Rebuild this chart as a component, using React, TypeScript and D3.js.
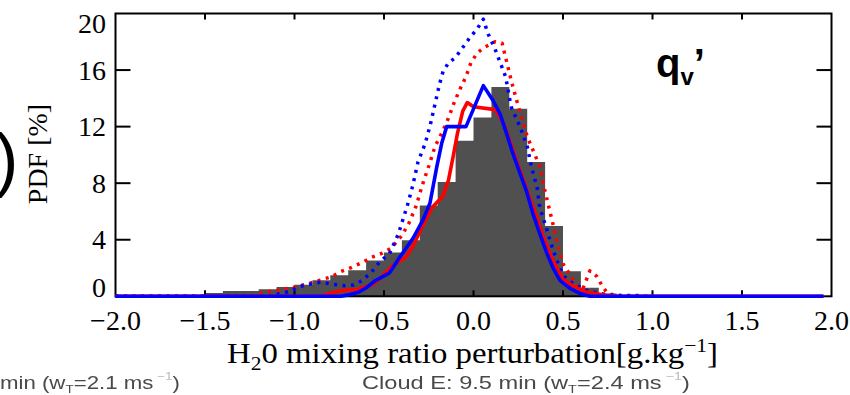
import React from "react";
import * as d3 from "d3";

const W = 850;
const H = 395;

// axis ticks
const xTickValues = [-2.0, -1.5, -1.0, -0.5, 0.0, 0.5, 1.0, 1.5, 2.0];
const yTickValues = [0, 4, 8, 12, 16, 20];

// histogram of the reference field (bin left edges, width 0.1 g/kg, PDF in %)
const binLeft = [
  -1.5, -1.4, -1.3, -1.2, -1.1, -1.0, -0.9, -0.8, -0.7, -0.6, -0.5, -0.4,
  -0.3, -0.2, -0.1, 0.0, 0.1, 0.2, 0.3, 0.4, 0.5, 0.6, 0.7,
];
const binWidth = 0.1;
const binPdf = [
  0.23, 0.37, 0.37, 0.5, 0.66, 0.82, 1.13, 1.48, 1.84, 2.54, 3.1, 3.96, 6.43,
  8.08, 11.0, 12.65, 14.8, 13.26, 9.5, 4.98, 1.77, 0.6, 0.2,
];

// solid red curve
const redSolid: [number, number][] = [
  [-2.0, 0], [-0.85, 0], [-0.8, 0.2], [-0.76, 0.35], [-0.7, 0.45], [-0.645, 0.5],
  [-0.56, 0.85], [-0.52, 1.3], [-0.45, 2.2], [-0.38, 2.75], [-0.34, 3.5],
  [-0.28, 5.1], [-0.23, 6.3], [-0.17, 7.1], [-0.14, 8.2], [-0.115, 9.8],
  [-0.09, 11.5], [-0.06, 13.1], [-0.035, 13.7], [0.0, 13.4], [0.12, 13.2],
  [0.165, 12.3], [0.2, 11.1], [0.24, 9.6], [0.28, 8.2], [0.31, 7.1], [0.35, 5.7],
  [0.39, 4.2], [0.43, 2.9], [0.47, 1.9], [0.5, 1.2], [0.56, 0.7], [0.63, 0.3],
  [0.74, 0.07], [0.8, 0], [1.955, 0],
];

// solid blue curve
const blueSolid: [number, number][] = [
  [-2.0, 0], [-0.74, 0], [-0.7, 0.1], [-0.64, 0.3], [-0.6, 0.6], [-0.55, 1.1],
  [-0.52, 1.3], [-0.47, 1.65], [-0.41, 2.8], [-0.338, 4.1], [-0.282, 5.4],
  [-0.243, 6.6], [-0.206, 9.1], [-0.178, 10.8], [-0.15, 12.0], [-0.042, 12.0],
  [0.055, 14.9], [0.109, 13.85], [0.148, 12.9], [0.185, 11.5], [0.22, 10.1],
  [0.26, 8.7], [0.297, 7.4], [0.332, 5.85], [0.37, 4.45], [0.41, 3.04],
  [0.446, 1.97], [0.483, 1.13], [0.539, 0.56], [0.595, 0.2], [0.65, 0],
  [1.955, 0],
];

// dotted red curve
const redDotted: [number, number][] = [
  [-2.0, 0], [-1.25, 0], [-1.2, 0.2], [-1.14, 0.35], [-1.08, 0.45], [-0.98, 0.7],
  [-0.92, 0.9], [-0.86, 1.13], [-0.79, 1.4], [-0.74, 1.75], [-0.68, 2.05],
  [-0.62, 2.4], [-0.57, 2.75], [-0.51, 3.05], [-0.46, 3.4], [-0.4, 4.3],
  [-0.36, 5.2], [-0.32, 6.4], [-0.285, 7.9], [-0.25, 9.2], [-0.215, 10.6],
  [-0.175, 11.6], [-0.14, 12.6], [-0.105, 13.8], [-0.07, 14.8], [-0.04, 15.6],
  [-0.015, 16.5], [0.02, 17.2], [0.06, 17.6], [0.12, 18.0], [0.16, 17.9],
  [0.185, 16.6], [0.21, 15.3], [0.24, 13.9], [0.265, 12.8], [0.3, 11.3],
  [0.34, 10.1], [0.37, 9.2], [0.4, 7.4], [0.425, 6.1], [0.45, 4.8], [0.47, 3.6],
  [0.5, 2.3], [0.54, 1.5], [0.58, 0.75], [0.61, 0.5], [0.65, 1.8], [0.69, 1.4],
  [0.72, 0.7], [0.75, 0.2], [0.8, 0.05], [0.9, 0],
];

// dotted blue curve
const blueDotted: [number, number][] = [
  [-2.0, 0], [-1.14, 0], [-1.08, 0.2], [-1.025, 0.35], [-0.97, 0.7], [-0.9, 0.9],
  [-0.85, 1.0], [-0.79, 0.85], [-0.72, 0.75], [-0.67, 0.8], [-0.62, 1.13],
  [-0.57, 1.7], [-0.52, 2.5], [-0.47, 3.0], [-0.42, 4.4], [-0.37, 6.4],
  [-0.34, 7.8], [-0.31, 9.5], [-0.27, 10.8], [-0.24, 12.2], [-0.215, 13.6],
  [-0.19, 15.0], [-0.17, 15.9], [-0.14, 16.5], [-0.1, 16.9], [-0.06, 17.6],
  [-0.02, 18.3], [0.02, 18.9], [0.055, 19.6], [0.08, 18.6], [0.12, 17.5],
  [0.15, 16.5], [0.18, 15.5], [0.21, 13.4], [0.26, 12.0], [0.3, 10.6],
  [0.325, 9.1], [0.355, 7.7], [0.37, 6.3], [0.41, 4.7], [0.445, 3.25],
  [0.48, 2.07], [0.51, 1.36], [0.555, 0.9], [0.63, 0.42], [0.71, 0.19],
  [0.78, 0.07], [0.93, 0.05], [0.97, 0],
];

const frame = { left: 115.5, right: 831.5, top: 13.5, bottom: 296.3 };

const x = d3.scaleLinear().domain([-2, 2]).range([frame.left, frame.right]);
const y = d3.scaleLinear().domain([0, 20]).range([frame.bottom, frame.top]);

const line = d3
  .line<[number, number]>()
  .x((d) => x(d[0]))
  .y((d) => y(d[1]))
  .curve(d3.curveLinear);

// histogram outline as one stepped area, so neighbouring bins share edges
const histPoints: [number, number][] = binLeft.map((b, i) => [b, binPdf[i]]);
histPoints.push([binLeft[binLeft.length - 1] + binWidth, binPdf[binPdf.length - 1]]);
const histArea = d3
  .area<[number, number]>()
  .x((d) => x(d[0]))
  .y0(y(0))
  .y1((d) => y(d[1]))
  .curve(d3.curveStepAfter);

const fmtX = (v: number) => (v < 0 ? "\u2212" : "") + Math.abs(v).toFixed(1);

// the extreme y labels sit inside the axis span
const yLabelBaseline = (v: number) => {
  if (v === 20) return 33;
  if (v === 0) return 297;
  return y(v) + 9.5;
};

const SERIF = "'Liberation Serif', 'Times New Roman', serif";
const SANS = "'Liberation Sans', Arial, sans-serif";

export default function App() {
  const innerX = xTickValues.slice(1, -1);
  const innerY = yTickValues.slice(1, -1);
  return (
    <div style={{ position: "absolute", left: 0, top: 0, background: "#fff" }}>
      <svg width={W} height={H} viewBox={`0 0 ${W} ${H}`} style={{ display: "block" }}>
        <defs>
          <filter id="soft" x="-5%" y="-20%" width="110%" height="140%">
            <feGaussianBlur stdDeviation="0.6" />
          </filter>
        </defs>
        <rect width={W} height={H} fill="#fff" />

        {/* histogram */}
        <path d={histArea(histPoints) ?? ""} fill="#505050" />

        {/* frame and ticks */}
        <g stroke="#000" strokeWidth={2} fill="none">
          <rect
            x={frame.left}
            y={frame.top}
            width={frame.right - frame.left}
            height={frame.bottom - frame.top}
          />
          {innerX.map((v) => (
            <g key={v}>
              <line x1={x(v)} x2={x(v)} y1={frame.top} y2={frame.top + 6} />
              <line x1={x(v)} x2={x(v)} y1={frame.bottom} y2={frame.bottom - 6} />
            </g>
          ))}
          {innerY.map((v) => (
            <g key={v}>
              <line x1={frame.left} x2={frame.left + 15} y1={y(v)} y2={y(v)} />
              <line x1={frame.right} x2={frame.right - 15} y1={y(v)} y2={y(v)} />
            </g>
          ))}
        </g>

        {/* curves */}
        <g fill="none" strokeLinejoin="round">
          <path d={line(redDotted) ?? ""} stroke="#ff0000" strokeWidth={3.5} strokeDasharray="3 5.5" />
          <path d={line(blueDotted) ?? ""} stroke="#0000ff" strokeWidth={3.5} strokeDasharray="3 5.5" />
          <path d={line(redSolid) ?? ""} stroke="#ff0000" strokeWidth={3.6} />
          <path d={line(blueSolid) ?? ""} stroke="#0000ff" strokeWidth={3.6} />
        </g>

        {/* tick labels */}
        <g fontFamily={SERIF} fontSize={28} fill="#000">
          {xTickValues.map((v) => (
            <text key={v} x={x(v)} y={330} textAnchor="middle">
              {fmtX(v)}
            </text>
          ))}
          {yTickValues.map((v) => (
            <text key={v} x={106} y={yLabelBaseline(v)} textAnchor="end">
              {v}
            </text>
          ))}
        </g>

        {/* axis titles */}
        <text
          x={227}
          y={363}
          fontFamily={SERIF}
          fontSize={29}
          fill="#000"
          textLength={491}
          lengthAdjust="spacingAndGlyphs"
        >
          H
          <tspan fontSize={19} dy={7}>2</tspan>
          <tspan dy={-7}>0 mixing ratio perturbation[g.kg</tspan>
          <tspan fontSize={19} dy={-11}>{"\u22121"}</tspan>
          <tspan dy={11}>]</tspan>
        </text>
        <text
          transform="translate(47,154) rotate(-90)"
          textAnchor="middle"
          fontFamily={SERIF}
          fontSize={28}
          fill="#000"
        >
          PDF [%]
        </text>

        {/* panel marks */}
        <text x={-5} y={183} fontFamily={SANS} fontSize={70} fill="#000">)</text>
        <text x={656} y={77} fontFamily={SANS} fontWeight="bold" fontSize={40} fill="#000">
          q<tspan fontSize={24} dy={8}>v</tspan>
          <tspan dy={-8}>{"\u2019"}</tspan>
        </text>

        {/* captions */}
        <g fontFamily={SANS} fontSize={18} fill="#4a4a4a" filter="url(#soft)">
          <text x={0} y={389} textLength={180} lengthAdjust="spacingAndGlyphs">
            min (w<tspan fontSize={11} dy={4}>T</tspan>
            <tspan dy={-4}>=2.1 ms</tspan>
            <tspan fontSize={11} dy={-9} fill="#bbb">{" \u22121"}</tspan>
            <tspan dy={9}>)</tspan>
          </text>
          <text x={362} y={389} textLength={328} lengthAdjust="spacingAndGlyphs">
            Cloud E: 9.5 min (w<tspan fontSize={11} dy={4}>T</tspan>
            <tspan dy={-4}>=2.4 ms</tspan>
            <tspan fontSize={11} dy={-9} fill="#bbb">{" \u22121"}</tspan>
            <tspan dy={9}>)</tspan>
          </text>
        </g>
      </svg>
    </div>
  );
}
